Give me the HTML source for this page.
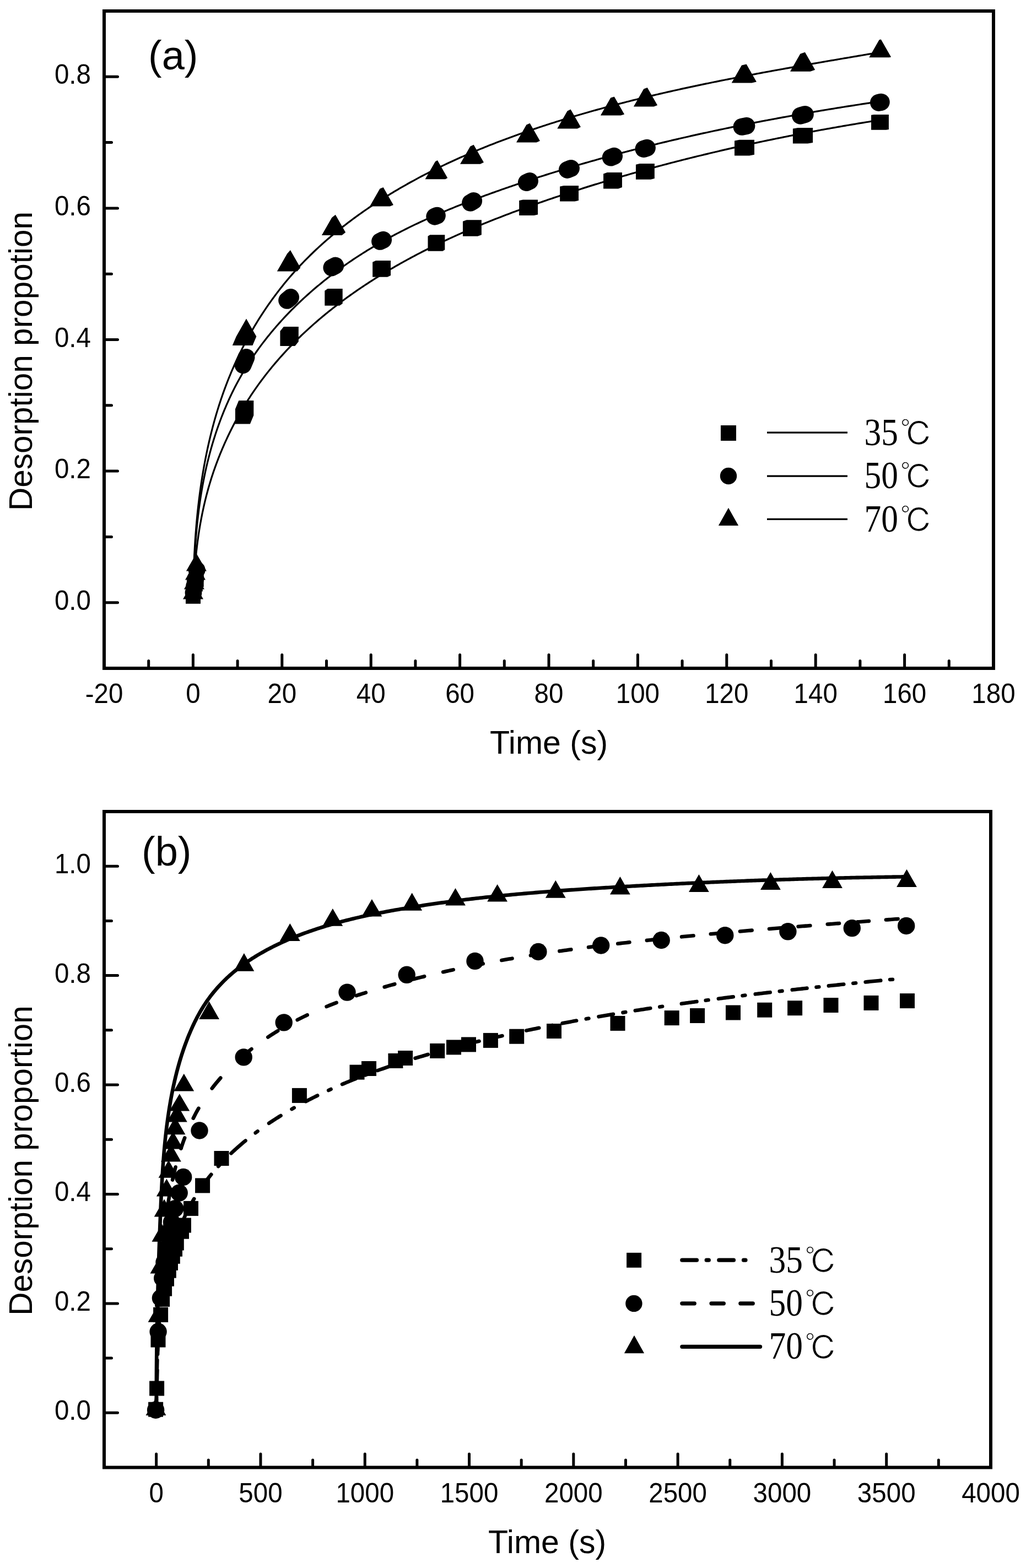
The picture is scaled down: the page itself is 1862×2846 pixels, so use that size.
<!DOCTYPE html>
<html lang="en">
<head>
<meta charset="utf-8">
<title>Desorption proportion vs time</title>
<style>
html,body{margin:0;padding:0;background:#fff;}
body{width:1862px;height:2846px;overflow:hidden;}
svg{display:block;}
</style>
</head>
<body>
<svg width="1862" height="2846" viewBox="0 0 1862 2846" role="img" aria-label="Desorption proportion versus time at 35, 50 and 70 degrees Celsius">
<rect width="1862" height="2846" fill="#fff"/>
<g id="plot-a">
<rect x="189" y="20" width="1614" height="1193" fill="none" stroke="#000" stroke-width="6"/>
<path d="M350.4 1213V1188.5M511.8 1213V1188.5M673.2 1213V1188.5M834.6 1213V1188.5M996 1213V1188.5M1157.4 1213V1188.5M1318.8 1213V1188.5M1480.2 1213V1188.5M1641.6 1213V1188.5" fill="none" stroke="#000" stroke-width="5" stroke-linecap="round"/>
<path d="M269.7 1213V1199.5M431.1 1213V1199.5M592.5 1213V1199.5M753.9 1213V1199.5M915.3 1213V1199.5M1076.7 1213V1199.5M1238.1 1213V1199.5M1399.5 1213V1199.5M1560.9 1213V1199.5M1722.3 1213V1199.5" fill="none" stroke="#000" stroke-width="5" stroke-linecap="round"/>
<path d="M189 1093.7H213.5M189 855.1H213.5M189 616.5H213.5M189 377.9H213.5M189 139.3H213.5" fill="none" stroke="#000" stroke-width="5" stroke-linecap="round"/>
<path d="M189 974.4H202.5M189 735.8H202.5M189 497.2H202.5M189 258.6H202.5" fill="none" stroke="#000" stroke-width="5" stroke-linecap="round"/>
<g fill="#000">
<text transform="translate(189 1276) scale(0.99 1.04)" font-family="'Liberation Sans', sans-serif" font-size="48" text-anchor="middle">-20</text>
<text transform="translate(350.4 1276) scale(0.99 1.04)" font-family="'Liberation Sans', sans-serif" font-size="48" text-anchor="middle">0</text>
<text transform="translate(511.8 1276) scale(0.99 1.04)" font-family="'Liberation Sans', sans-serif" font-size="48" text-anchor="middle">20</text>
<text transform="translate(673.2 1276) scale(0.99 1.04)" font-family="'Liberation Sans', sans-serif" font-size="48" text-anchor="middle">40</text>
<text transform="translate(834.6 1276) scale(0.99 1.04)" font-family="'Liberation Sans', sans-serif" font-size="48" text-anchor="middle">60</text>
<text transform="translate(996 1276) scale(0.99 1.04)" font-family="'Liberation Sans', sans-serif" font-size="48" text-anchor="middle">80</text>
<text transform="translate(1157.4 1276) scale(0.99 1.04)" font-family="'Liberation Sans', sans-serif" font-size="48" text-anchor="middle">100</text>
<text transform="translate(1318.8 1276) scale(0.99 1.04)" font-family="'Liberation Sans', sans-serif" font-size="48" text-anchor="middle">120</text>
<text transform="translate(1480.2 1276) scale(0.99 1.04)" font-family="'Liberation Sans', sans-serif" font-size="48" text-anchor="middle">140</text>
<text transform="translate(1641.6 1276) scale(0.99 1.04)" font-family="'Liberation Sans', sans-serif" font-size="48" text-anchor="middle">160</text>
<text transform="translate(1803 1276) scale(0.99 1.04)" font-family="'Liberation Sans', sans-serif" font-size="48" text-anchor="middle">180</text>
<text transform="translate(165 1106.7) scale(0.99 1.04)" font-family="'Liberation Sans', sans-serif" font-size="48" text-anchor="end">0.0</text>
<text transform="translate(165 868.1) scale(0.99 1.04)" font-family="'Liberation Sans', sans-serif" font-size="48" text-anchor="end">0.2</text>
<text transform="translate(165 629.5) scale(0.99 1.04)" font-family="'Liberation Sans', sans-serif" font-size="48" text-anchor="end">0.4</text>
<text transform="translate(165 390.9) scale(0.99 1.04)" font-family="'Liberation Sans', sans-serif" font-size="48" text-anchor="end">0.6</text>
<text transform="translate(165 152.3) scale(0.99 1.04)" font-family="'Liberation Sans', sans-serif" font-size="48" text-anchor="end">0.8</text>
<text x="996" y="1368" font-family="'Liberation Sans', sans-serif" font-size="59" text-anchor="middle">Time (s)</text>
<text transform="translate(57.5 655.5) rotate(-90)" font-family="'Liberation Sans', sans-serif" font-size="58.5" text-anchor="middle">Desorption propotion</text>
<text x="269" y="125.5" font-family="'Liberation Sans', sans-serif" font-size="74" text-anchor="start">(a)</text>
</g>
<path d="M350.87 1093.02L350.93 1089.67L350.99 1086.33L351.07 1082.98L351.15 1079.63L351.25 1076.28L351.36 1072.93L351.47 1069.58L351.6 1066.22L351.74 1062.87L351.89 1059.52L352.05 1056.17L352.22 1052.82L352.4 1049.47L352.6 1046.12L352.8 1042.77L353.02 1039.42L353.25 1036.07L353.49 1032.72L353.74 1029.37L354.01 1026.03L354.28 1022.68L354.57 1019.33L354.88 1015.99L355.19 1012.65L355.52 1009.31L355.86 1005.97L356.21 1002.63L356.58 999.29L356.96 995.96L357.35 992.63L357.76 989.3L358.18 985.97L358.62 982.64L359.06 979.32L359.53 975.99L360 972.67L360.5 969.36L361 966.04L361.52 962.73L362.06 959.42L362.61 956.11L363.17 952.81L363.75 949.51L364.35 946.21L364.96 942.92L365.58 939.63L366.23 936.34L366.88 933.06L367.56 929.78L368.25 926.5L368.95 923.23L369.67 919.96L370.41 916.7L371.17 913.44L371.94 910.18L372.73 906.93L373.53 903.69L374.35 900.44L375.19 897.21L376.05 893.97L376.92 890.74L377.81 887.52L378.72 884.3L379.65 881.09L380.6 877.88L381.56 874.68L382.54 871.48L383.54 868.29L384.56 865.1L385.59 861.92L386.65 858.75L387.72 855.58L388.82 852.41L389.93 849.26L391.06 846.11L392.2 842.96L393.37 839.82L394.55 836.69L395.75 833.56L396.97 830.44L398.2 827.33L399.46 824.22L400.72 821.12L402.01 818.02L403.31 814.94L404.63 811.85L405.96 808.78L407.31 805.71L408.68 802.65L410.06 799.59L411.46 796.55L412.88 793.51L414.31 790.47L415.76 787.45L417.22 784.43L418.7 781.42L420.2 778.42L421.72 775.43L423.25 772.44L424.81 769.47L426.38 766.5L427.96 763.54L429.56 760.59L431.18 757.65L432.82 754.71L434.48 751.79L436.15 748.87L437.83 745.97L439.54 743.07L441.26 740.19L442.99 737.31L444.74 734.45L446.51 731.59L448.3 728.74L450.1 725.91L451.91 723.08L453.74 720.27L455.59 717.46L457.45 714.67L459.33 711.88L461.22 709.11L463.13 706.35L465.05 703.6L466.99 700.86L468.94 698.13L470.91 695.42L472.89 692.72L474.89 690.02L476.9 687.34L478.92 684.68L480.96 682.02L483.02 679.37L485.08 676.74L487.16 674.12L489.26 671.51L491.37 668.91L493.49 666.33L495.62 663.75L497.77 661.19L499.93 658.64L502.11 656.1L504.3 653.58L506.5 651.06L508.71 648.55L510.94 646.06L513.18 643.58L515.43 641.11L517.7 638.65L519.97 636.2L522.26 633.77L524.56 631.34L526.88 628.93L529.2 626.53L531.54 624.14L533.89 621.76L536.25 619.39L538.62 617.03L541 614.68L543.4 612.35L545.8 610.02L548.22 607.71L550.65 605.41L553.09 603.12L555.54 600.84L558 598.57L560.47 596.31L562.95 594.06L565.45 591.82L567.95 589.6L570.46 587.38L572.99 585.18L575.52 582.98L578.06 580.8L580.62 578.63L583.18 576.47L585.75 574.31L588.33 572.17L590.92 570.04L593.52 567.92L596.13 565.81L598.75 563.72L601.38 561.63L604.02 559.55L606.67 557.48L609.32 555.42L611.98 553.38L614.65 551.34L617.34 549.31L620.02 547.29L622.72 545.29L625.43 543.29L628.14 541.31L630.86 539.33L633.59 537.36L636.32 535.41L639.07 533.46L641.82 531.53L644.58 529.6L647.35 527.68L650.12 525.78L652.9 523.88L655.69 521.99L658.48 520.12L661.28 518.25L664.09 516.39L666.91 514.54L669.73 512.71L672.55 510.88L675.39 509.06L678.23 507.25L681.08 505.45L683.93 503.66L686.79 501.88L689.65 500.11L692.52 498.35L695.4 496.59L698.28 494.85L701.16 493.12L704.05 491.39L706.95 489.68L709.85 487.97L712.76 486.28L715.67 484.59L718.59 482.91L721.51 481.24L724.43 479.58L727.37 477.93L730.3 476.29L733.24 474.66L736.18 473.03L739.13 471.42L742.08 469.81L745.04 468.22L748 466.63L750.96 465.05L753.93 463.48L756.9 461.92L759.87 460.37L762.85 458.82L765.83 457.28L768.82 455.76L771.81 454.24L774.8 452.73L777.8 451.22L780.8 449.73L783.8 448.24L786.81 446.76L789.82 445.29L792.83 443.83L795.85 442.37L798.87 440.92L801.9 439.49L804.92 438.05L807.95 436.63L810.99 435.21L814.03 433.8L817.07 432.4L820.11 431L823.16 429.62L826.21 428.24L829.26 426.86L832.32 425.5L835.38 424.14L838.44 422.78L841.5 421.44L844.57 420.1L847.64 418.77L850.71 417.44L853.79 416.12L856.87 414.81L859.95 413.51L863.04 412.21L866.12 410.91L869.21 409.63L872.31 408.35L875.4 407.07L878.5 405.81L881.6 404.54L884.7 403.29L887.81 402.04L890.91 400.79L894.02 399.55L897.14 398.32L900.25 397.09L903.37 395.87L906.49 394.66L909.61 393.45L912.73 392.24L915.86 391.04L918.98 389.85L922.11 388.66L925.25 387.47L928.38 386.3L931.52 385.12L934.65 383.95L937.79 382.79L940.94 381.63L944.08 380.48L947.23 379.33L950.37 378.18L953.52 377.04L956.67 375.91L959.83 374.77L962.98 373.65L966.14 372.52L969.29 371.41L972.45 370.29L975.61 369.18L978.78 368.08L981.94 366.98L985.11 365.88L988.27 364.78L991.44 363.69L994.61 362.61L997.78 361.52L1000.95 360.45L1004.13 359.37L1007.3 358.3L1010.48 357.23L1013.65 356.17L1016.83 355.11L1020.01 354.05L1023.19 353L1026.38 351.95L1029.56 350.9L1032.74 349.86L1035.93 348.82L1039.12 347.78L1042.31 346.75L1045.5 345.72L1048.69 344.7L1051.88 343.68L1055.07 342.66L1058.27 341.64L1061.46 340.63L1064.66 339.63L1067.86 338.62L1071.06 337.62L1074.26 336.63L1077.46 335.63L1080.66 334.64L1083.87 333.66L1087.07 332.68L1090.28 331.7L1093.49 330.72L1096.69 329.75L1099.9 328.78L1103.11 327.82L1106.33 326.85L1109.54 325.89L1112.75 324.94L1115.97 323.99L1119.18 323.04L1122.4 322.1L1125.62 321.15L1128.84 320.22L1132.06 319.28L1135.28 318.35L1138.5 317.42L1141.73 316.5L1144.95 315.58L1148.18 314.66L1151.4 313.75L1154.63 312.84L1157.86 311.93L1161.09 311.02L1164.32 310.12L1167.55 309.23L1170.78 308.33L1174.02 307.44L1177.25 306.55L1180.49 305.67L1183.72 304.79L1186.96 303.91L1190.2 303.04L1193.44 302.16L1196.68 301.3L1199.92 300.43L1203.16 299.57L1206.4 298.71L1209.65 297.86L1212.89 297.01L1216.14 296.16L1219.38 295.31L1222.63 294.47L1225.88 293.63L1229.13 292.79L1232.38 291.96L1235.63 291.13L1238.88 290.31L1242.13 289.48L1245.39 288.66L1248.64 287.85L1251.89 287.03L1255.15 286.22L1258.41 285.42L1261.66 284.61L1264.92 283.81L1268.18 283.01L1271.44 282.22L1274.7 281.43L1277.96 280.64L1281.22 279.85L1284.48 279.07L1287.75 278.29L1291.01 277.51L1294.28 276.74L1297.54 275.97L1300.81 275.2L1304.08 274.44L1307.34 273.68L1310.61 272.92L1313.88 272.16L1317.15 271.41L1320.42 270.66L1323.69 269.92L1326.96 269.17L1330.24 268.43L1333.51 267.7L1336.78 266.96L1340.06 266.23L1343.33 265.5L1346.61 264.78L1349.88 264.06L1353.16 263.34L1356.44 262.62L1359.72 261.91L1362.99 261.2L1366.27 260.49L1369.55 259.78L1372.83 259.08L1376.11 258.38L1379.4 257.69L1382.68 256.99L1385.96 256.3L1389.24 255.62L1392.53 254.93L1395.81 254.25L1399.1 253.57L1402.38 252.89L1405.67 252.22L1408.95 251.55L1412.24 250.88L1415.53 250.22L1418.82 249.56L1422.1 248.9L1425.39 248.24L1428.68 247.59L1431.97 246.94L1435.26 246.29L1438.55 245.64L1441.84 245L1445.14 244.36L1448.43 243.73L1451.72 243.09L1455.01 242.46L1458.31 241.83L1461.6 241.2L1464.89 240.58L1468.19 239.96L1471.48 239.34L1474.78 238.73L1478.07 238.12L1481.37 237.51L1484.67 236.9L1487.96 236.29L1491.26 235.69L1494.56 235.09L1497.85 234.5L1501.15 233.9L1504.45 233.31L1507.75 232.72L1511.05 232.14L1514.35 231.55L1517.65 230.97L1520.95 230.39L1524.25 229.82L1527.55 229.25L1530.85 228.67L1534.15 228.11L1537.45 227.54L1540.75 226.98L1544.05 226.42L1547.35 225.86L1550.66 225.31L1553.96 224.75L1557.26 224.2L1560.56 223.66L1563.87 223.11L1567.17 222.57L1570.47 222.03L1573.78 221.49L1577.08 220.96L1580.39 220.42L1583.69 219.89L1586.99 219.37L1590.3 218.84L1593.6 218.32L1596.91 217.8" fill="none" stroke="#000" stroke-width="3.2" stroke-linejoin="round"/>
<path d="M350.98 1092.65L351 1089.26L351.03 1085.85L351.06 1082.45L351.1 1079.04L351.14 1075.63L351.19 1072.22L351.25 1068.8L351.31 1065.38L351.38 1061.96L351.45 1058.53L351.53 1055.11L351.62 1051.68L351.71 1048.25L351.81 1044.81L351.92 1041.38L352.04 1037.94L352.16 1034.5L352.29 1031.06L352.43 1027.62L352.58 1024.18L352.73 1020.73L352.89 1017.29L353.07 1013.84L353.25 1010.39L353.43 1006.94L353.63 1003.49L353.84 1000.04L354.05 996.59L354.28 993.14L354.51 989.68L354.76 986.23L355.01 982.78L355.28 979.33L355.55 975.87L355.84 972.42L356.13 968.97L356.44 965.52L356.75 962.06L357.08 958.61L357.42 955.16L357.77 951.71L358.13 948.26L358.5 944.81L358.89 941.36L359.28 937.92L359.69 934.47L360.11 931.03L360.54 927.58L360.99 924.14L361.45 920.7L361.92 917.26L362.4 913.83L362.9 910.39L363.41 906.96L363.93 903.53L364.47 900.1L365.02 896.68L365.58 893.25L366.16 889.83L366.75 886.41L367.36 883L367.98 879.58L368.62 876.17L369.27 872.77L369.93 869.36L370.61 865.96L371.31 862.56L372.02 859.17L372.75 855.78L373.49 852.39L374.25 849.01L375.03 845.63L375.82 842.25L376.62 838.88L377.45 835.51L378.29 832.15L379.15 828.79L380.02 825.43L380.91 822.08L381.82 818.74L382.75 815.4L383.69 812.06L384.65 808.73L385.63 805.41L386.62 802.09L387.63 798.77L388.66 795.47L389.71 792.16L390.77 788.87L391.85 785.58L392.95 782.3L394.07 779.02L395.2 775.75L396.35 772.49L397.52 769.24L398.71 765.99L399.92 762.75L401.14 759.52L402.38 756.3L403.64 753.08L404.92 749.87L406.22 746.67L407.53 743.48L408.87 740.3L410.22 737.12L411.59 733.96L412.98 730.8L414.39 727.66L415.81 724.52L417.26 721.39L418.72 718.27L420.21 715.17L421.71 712.07L423.23 708.98L424.77 705.9L426.33 702.84L427.91 699.78L429.5 696.73L431.12 693.7L432.76 690.68L434.41 687.66L436.09 684.66L437.78 681.67L439.5 678.7L441.23 675.73L442.98 672.78L444.76 669.84L446.55 666.91L448.36 663.99L450.19 661.08L452.03 658.19L453.9 655.3L455.79 652.43L457.69 649.57L459.61 646.73L461.55 643.89L463.51 641.07L465.48 638.26L467.47 635.46L469.48 632.67L471.51 629.9L473.55 627.13L475.61 624.38L477.69 621.64L479.79 618.92L481.9 616.2L484.03 613.5L486.17 610.81L488.33 608.13L490.51 605.46L492.7 602.81L494.91 600.17L497.14 597.54L499.38 594.92L501.63 592.31L503.9 589.72L506.19 587.14L508.49 584.57L510.8 582.01L513.13 579.46L515.48 576.93L517.84 574.41L520.21 571.9L522.6 569.41L525 566.92L527.42 564.45L529.85 561.99L532.29 559.54L534.75 557.11L537.22 554.69L539.71 552.28L542.2 549.88L544.71 547.49L547.24 545.12L549.77 542.76L552.32 540.41L554.88 538.08L557.45 535.75L560.04 533.44L562.64 531.14L565.25 528.86L567.87 526.58L570.5 524.32L573.14 522.07L575.8 519.84L578.47 517.61L581.15 515.4L583.83 513.2L586.53 511.02L589.25 508.85L591.97 506.68L594.7 504.54L597.44 502.4L600.19 500.28L602.95 498.17L605.73 496.07L608.51 493.98L611.3 491.91L614.1 489.85L616.91 487.8L619.73 485.77L622.56 483.75L625.4 481.74L628.24 479.74L631.1 477.76L633.96 475.79L636.83 473.83L639.71 471.88L642.6 469.95L645.5 468.03L648.4 466.12L651.32 464.23L654.24 462.35L657.16 460.48L660.1 458.62L663.04 456.78L665.99 454.95L668.94 453.13L671.91 451.33L674.88 449.54L677.85 447.76L680.83 445.99L683.82 444.24L686.82 442.5L689.82 440.77L692.83 439.06L695.84 437.35L698.86 435.66L701.89 433.98L704.92 432.32L707.95 430.66L711 429.02L714.05 427.39L717.1 425.76L720.16 424.15L723.23 422.56L726.3 420.97L729.37 419.39L732.45 417.83L735.54 416.27L738.63 414.73L741.73 413.19L744.83 411.67L747.94 410.16L751.05 408.65L754.16 407.16L757.29 405.68L760.41 404.2L763.54 402.74L766.68 401.29L769.81 399.84L772.96 398.41L776.11 396.98L779.26 395.56L782.41 394.16L785.57 392.76L788.74 391.37L791.91 389.98L795.08 388.61L798.25 387.25L801.43 385.89L804.62 384.54L807.8 383.2L810.99 381.87L814.19 380.54L817.38 379.22L820.58 377.92L823.79 376.61L826.99 375.32L830.2 374.03L833.42 372.75L836.63 371.48L839.85 370.21L843.07 368.95L846.3 367.7L849.52 366.45L852.75 365.21L855.98 363.98L859.22 362.75L862.45 361.53L865.69 360.31L868.94 359.1L872.18 357.9L875.42 356.7L878.67 355.5L881.92 354.32L885.17 353.13L888.43 351.96L891.68 350.78L894.94 349.62L898.2 348.45L901.46 347.3L904.72 346.14L907.98 344.99L911.24 343.85L914.51 342.71L917.78 341.57L921.04 340.44L924.31 339.31L927.58 338.19L930.86 337.07L934.13 335.95L937.4 334.84L940.68 333.74L943.96 332.64L947.24 331.54L950.52 330.44L953.8 329.35L957.08 328.27L960.36 327.19L963.65 326.11L966.93 325.04L970.22 323.97L973.51 322.9L976.8 321.84L980.09 320.79L983.38 319.73L986.68 318.69L989.97 317.64L993.27 316.6L996.56 315.56L999.86 314.53L1003.16 313.5L1006.46 312.48L1009.76 311.46L1013.07 310.44L1016.37 309.43L1019.68 308.42L1022.98 307.42L1026.29 306.42L1029.6 305.42L1032.91 304.43L1036.22 303.44L1039.53 302.45L1042.84 301.47L1046.16 300.49L1049.47 299.52L1052.79 298.55L1056.11 297.58L1059.43 296.62L1062.75 295.66L1066.07 294.71L1069.39 293.76L1072.71 292.81L1076.04 291.87L1079.36 290.93L1082.69 289.99L1086.01 289.06L1089.34 288.13L1092.67 287.21L1096 286.29L1099.33 285.37L1102.67 284.46L1106 283.55L1109.33 282.64L1112.67 281.74L1116 280.84L1119.34 279.94L1122.68 279.05L1126.02 278.16L1129.36 277.28L1132.7 276.39L1136.04 275.52L1139.39 274.64L1142.73 273.77L1146.07 272.9L1149.42 272.04L1152.77 271.18L1156.11 270.32L1159.46 269.47L1162.81 268.62L1166.16 267.77L1169.51 266.93L1172.87 266.09L1176.22 265.25L1179.57 264.42L1182.93 263.59L1186.28 262.76L1189.64 261.94L1193 261.12L1196.36 260.31L1199.72 259.49L1203.08 258.68L1206.44 257.88L1209.8 257.07L1213.16 256.27L1216.52 255.48L1219.89 254.68L1223.25 253.89L1226.62 253.11L1229.98 252.32L1233.35 251.54L1236.72 250.77L1240.09 249.99L1243.46 249.22L1246.83 248.45L1250.2 247.69L1253.57 246.93L1256.94 246.17L1260.32 245.41L1263.69 244.66L1267.07 243.91L1270.44 243.17L1273.82 242.42L1277.2 241.68L1280.57 240.95L1283.95 240.21L1287.33 239.48L1290.71 238.75L1294.09 238.03L1297.47 237.31L1300.85 236.59L1304.24 235.87L1307.62 235.16L1311 234.45L1314.39 233.74L1317.77 233.03L1321.16 232.33L1324.55 231.63L1327.93 230.94L1331.32 230.25L1334.71 229.56L1338.1 228.87L1341.49 228.18L1344.88 227.5L1348.27 226.82L1351.66 226.15L1355.05 225.47L1358.44 224.8L1361.84 224.14L1365.23 223.47L1368.62 222.81L1372.02 222.15L1375.41 221.49L1378.81 220.84L1382.21 220.19L1385.6 219.54L1389 218.89L1392.4 218.25L1395.8 217.61L1399.2 216.97L1402.59 216.33L1405.99 215.7L1409.4 215.07L1412.8 214.44L1416.2 213.82L1419.6 213.19L1423 212.57L1426.4 211.95L1429.81 211.34L1433.21 210.73L1436.62 210.12L1440.02 209.51L1443.42 208.9L1446.83 208.3L1450.24 207.7L1453.64 207.1L1457.05 206.51L1460.46 205.91L1463.86 205.32L1467.27 204.73L1470.68 204.15L1474.09 203.56L1477.5 202.98L1480.91 202.4L1484.32 201.83L1487.73 201.25L1491.14 200.68L1494.55 200.11L1497.96 199.54L1501.37 198.98L1504.78 198.42L1508.19 197.86L1511.61 197.3L1515.02 196.74L1518.43 196.19L1521.85 195.64L1525.26 195.09L1528.67 194.54L1532.09 193.99L1535.5 193.45L1538.92 192.91L1542.33 192.37L1545.75 191.83L1549.16 191.3L1552.58 190.77L1555.99 190.24L1559.41 189.71L1562.83 189.18L1566.24 188.66L1569.66 188.13L1573.08 187.61L1576.5 187.1L1579.91 186.58L1583.33 186.07L1586.75 185.55L1590.17 185.04L1593.59 184.54L1597 184.03" fill="none" stroke="#000" stroke-width="3.2" stroke-linejoin="round"/>
<path d="M350.52 1092.69L350.54 1089.12L350.57 1085.56L350.6 1081.99L350.63 1078.42L350.67 1074.85L350.72 1071.27L350.78 1067.7L350.84 1064.12L350.9 1060.54L350.98 1056.97L351.06 1053.39L351.14 1049.81L351.24 1046.22L351.34 1042.64L351.44 1039.06L351.56 1035.47L351.68 1031.89L351.8 1028.3L351.94 1024.71L352.08 1021.12L352.23 1017.53L352.39 1013.95L352.56 1010.36L352.73 1006.76L352.92 1003.17L353.11 999.58L353.3 995.99L353.51 992.4L353.73 988.81L353.95 985.22L354.18 981.62L354.42 978.03L354.67 974.44L354.93 970.85L355.2 967.25L355.48 963.66L355.76 960.07L356.06 956.48L356.36 952.89L356.68 949.3L357 945.71L357.34 942.12L357.68 938.53L358.04 934.94L358.4 931.35L358.77 927.76L359.16 924.18L359.55 920.59L359.96 917.01L360.38 913.42L360.8 909.84L361.24 906.26L361.69 902.68L362.15 899.1L362.62 895.52L363.1 891.94L363.6 888.37L364.1 884.79L364.62 881.22L365.15 877.65L365.69 874.08L366.24 870.51L366.8 866.95L367.38 863.38L367.97 859.82L368.57 856.26L369.18 852.7L369.81 849.14L370.45 845.59L371.1 842.03L371.76 838.48L372.44 834.94L373.13 831.39L373.83 827.85L374.55 824.31L375.28 820.77L376.02 817.24L376.78 813.71L377.55 810.18L378.33 806.65L379.13 803.13L379.94 799.62L380.77 796.1L381.61 792.59L382.46 789.08L383.33 785.58L384.22 782.08L385.12 778.59L386.03 775.1L386.96 771.61L387.9 768.13L388.86 764.66L389.83 761.18L390.82 757.72L391.83 754.25L392.85 750.8L393.88 747.34L394.94 743.9L396 740.46L397.09 737.02L398.18 733.59L399.3 730.16L400.43 726.74L401.58 723.33L402.75 719.92L403.93 716.52L405.12 713.12L406.34 709.73L407.57 706.35L408.82 702.97L410.09 699.6L411.37 696.24L412.67 692.88L413.99 689.53L415.32 686.19L416.68 682.85L418.05 679.52L419.44 676.2L420.84 672.89L422.26 669.58L423.7 666.28L425.16 662.99L426.64 659.71L428.13 656.43L429.64 653.16L431.17 649.9L432.71 646.65L434.27 643.41L435.85 640.17L437.45 636.95L439.06 633.73L440.69 630.52L442.33 627.32L444 624.13L445.68 620.95L447.38 617.77L449.09 614.61L450.82 611.46L452.57 608.31L454.34 605.18L456.12 602.05L457.92 598.94L459.73 595.83L461.56 592.73L463.41 589.65L465.28 586.57L467.16 583.51L469.06 580.45L470.97 577.41L472.9 574.38L474.85 571.35L476.82 568.34L478.8 565.34L480.8 562.35L482.81 559.37L484.84 556.41L486.89 553.45L488.95 550.51L491.03 547.57L493.12 544.65L495.23 541.74L497.36 538.85L499.5 535.96L501.66 533.09L503.84 530.23L506.03 527.38L508.24 524.54L510.46 521.72L512.7 518.91L514.96 516.11L517.23 513.33L519.52 510.55L521.82 507.8L524.14 505.05L526.47 502.32L528.82 499.6L531.19 496.89L533.57 494.2L535.97 491.52L538.38 488.86L540.81 486.21L543.25 483.57L545.71 480.95L548.19 478.34L550.68 475.75L553.18 473.17L555.7 470.6L558.24 468.05L560.79 465.51L563.35 462.99L565.93 460.48L568.52 457.98L571.13 455.5L573.75 453.03L576.38 450.57L579.03 448.13L581.69 445.7L584.36 443.29L587.04 440.89L589.74 438.5L592.45 436.13L595.18 433.77L597.91 431.42L600.66 429.08L603.41 426.76L606.18 424.46L608.96 422.16L611.76 419.88L614.56 417.61L617.37 415.36L620.2 413.11L623.03 410.88L625.88 408.67L628.74 406.46L631.6 404.27L634.48 402.1L637.36 399.93L640.26 397.78L643.16 395.64L646.07 393.51L648.99 391.39L651.92 389.29L654.86 387.2L657.81 385.12L660.77 383.06L663.73 381.01L666.7 378.96L669.68 376.94L672.67 374.92L675.66 372.91L678.66 370.92L681.67 368.94L684.69 366.97L687.71 365.02L690.75 363.07L693.78 361.14L696.83 359.22L699.88 357.31L702.94 355.41L706.01 353.52L709.08 351.65L712.16 349.78L715.25 347.93L718.34 346.09L721.44 344.26L724.55 342.44L727.66 340.63L730.78 338.83L733.91 337.05L737.04 335.27L740.18 333.51L743.33 331.76L746.48 330.01L749.64 328.28L752.8 326.56L755.97 324.85L759.14 323.15L762.33 321.46L765.51 319.78L768.7 318.11L771.9 316.45L775.11 314.8L778.32 313.16L781.53 311.53L784.75 309.91L787.98 308.3L791.21 306.7L794.44 305.11L797.68 303.54L800.93 301.97L804.18 300.41L807.44 298.85L810.7 297.31L813.96 295.78L817.23 294.26L820.51 292.75L823.79 291.24L827.07 289.75L830.36 288.26L833.66 286.79L836.96 285.32L840.26 283.86L843.56 282.41L846.88 280.97L850.19 279.54L853.51 278.12L856.83 276.7L860.16 275.3L863.49 273.9L866.83 272.51L870.16 271.13L873.51 269.76L876.85 268.4L880.2 267.04L883.56 265.69L886.91 264.36L890.27 263.03L893.64 261.7L897 260.39L900.37 259.08L903.74 257.78L907.12 256.49L910.5 255.21L913.88 253.93L917.27 252.66L920.65 251.4L924.05 250.15L927.44 248.9L930.84 247.66L934.23 246.43L937.64 245.21L941.04 243.99L944.44 242.78L947.85 241.58L951.26 240.39L954.68 239.2L958.09 238.01L961.51 236.84L964.93 235.67L968.35 234.51L971.77 233.36L975.2 232.21L978.63 231.07L982.05 229.93L985.48 228.8L988.92 227.68L992.35 226.56L995.78 225.45L999.22 224.35L1002.66 223.25L1006.1 222.16L1009.54 221.07L1012.98 219.99L1016.42 218.92L1019.87 217.85L1023.31 216.79L1026.76 215.74L1030.21 214.69L1033.66 213.64L1037.11 212.6L1040.56 211.57L1044.02 210.54L1047.47 209.52L1050.93 208.5L1054.39 207.49L1057.85 206.49L1061.31 205.49L1064.77 204.5L1068.23 203.51L1071.69 202.52L1075.16 201.55L1078.63 200.57L1082.09 199.61L1085.56 198.64L1089.03 197.69L1092.5 196.73L1095.98 195.79L1099.45 194.85L1102.92 193.91L1106.4 192.98L1109.88 192.05L1113.36 191.13L1116.84 190.21L1120.32 189.3L1123.8 188.39L1127.28 187.49L1130.76 186.59L1134.25 185.7L1137.73 184.81L1141.22 183.93L1144.71 183.05L1148.2 182.17L1151.69 181.3L1155.18 180.44L1158.67 179.58L1162.16 178.72L1165.66 177.87L1169.15 177.02L1172.65 176.17L1176.15 175.33L1179.65 174.5L1183.15 173.67L1186.65 172.84L1190.15 172.02L1193.65 171.2L1197.15 170.38L1200.66 169.57L1204.16 168.76L1207.67 167.96L1211.17 167.16L1214.68 166.36L1218.19 165.57L1221.7 164.78L1225.21 164L1228.72 163.22L1232.23 162.44L1235.74 161.67L1239.26 160.9L1242.77 160.13L1246.29 159.37L1249.8 158.61L1253.32 157.85L1256.84 157.1L1260.36 156.35L1263.88 155.6L1267.4 154.86L1270.92 154.12L1274.44 153.39L1277.96 152.65L1281.48 151.92L1285.01 151.2L1288.53 150.47L1292.06 149.75L1295.58 149.03L1299.11 148.32L1302.64 147.6L1306.17 146.89L1309.69 146.19L1313.22 145.48L1316.75 144.78L1320.29 144.08L1323.82 143.39L1327.35 142.7L1330.88 142L1334.41 141.32L1337.95 140.63L1341.48 139.95L1345.02 139.27L1348.55 138.59L1352.09 137.91L1355.63 137.24L1359.16 136.57L1362.7 135.9L1366.24 135.23L1369.78 134.57L1373.32 133.9L1376.86 133.24L1380.4 132.59L1383.94 131.93L1387.48 131.28L1391.03 130.62L1394.57 129.97L1398.11 129.32L1401.66 128.68L1405.2 128.03L1408.74 127.39L1412.29 126.75L1415.84 126.11L1419.38 125.47L1422.93 124.83L1426.47 124.2L1430.02 123.56L1433.57 122.93L1437.12 122.3L1440.66 121.67L1444.21 121.04L1447.76 120.42L1451.31 119.79L1454.86 119.17L1458.41 118.54L1461.96 117.92L1465.51 117.3L1469.06 116.68L1472.62 116.06L1476.17 115.45L1479.72 114.83L1483.27 114.22L1486.82 113.6L1490.38 112.99L1493.93 112.38L1497.48 111.76L1501.04 111.15L1504.59 110.54L1508.14 109.93L1511.7 109.33L1515.25 108.72L1518.81 108.11L1522.36 107.5L1525.92 106.9L1529.47 106.29L1533.03 105.68L1536.58 105.08L1540.14 104.47L1543.69 103.87L1547.25 103.27L1550.81 102.66L1554.36 102.06L1557.92 101.45L1561.48 100.85L1565.03 100.25L1568.59 99.64L1572.14 99.04L1575.7 98.44L1579.26 97.83L1582.82 97.23L1586.37 96.63L1589.93 96.02L1593.49 95.42L1597.04 94.82" fill="none" stroke="#000" stroke-width="3.2" stroke-linejoin="round"/>
<g fill="#000">
<path d="M350.5 1055.5L369 1087.5L332 1087.5Z"/>
<path d="M352.4 1037.4L370.9 1069.4L333.9 1069.4Z"/>
<path d="M354.5 1020.6L373 1052.6L336 1052.6Z"/>
<path d="M356.4 1004.4L374.9 1036.4L337.9 1036.4Z"/>
<rect x="337" y="1068.8" width="27" height="27"/>
<rect x="338.9" y="1052.5" width="27" height="27"/>
<rect x="340.8" y="1046.5" width="27" height="27"/>
<rect x="342.7" y="1038.5" width="27" height="27"/>
<circle cx="351" cy="1076" r="15.4"/>
<circle cx="352.6" cy="1064" r="15.4"/>
<circle cx="355" cy="1050" r="15.4"/>
<circle cx="357.2" cy="1034.5" r="15.4"/>
<path d="M426.9 769.4L426.9 742.4L433.3 727L460.3 727L460.3 754L453.9 769.4Z"/>
<path d="M447 648.5L441.1 662.6" fill="none" stroke="#000" stroke-width="31" stroke-linecap="round"/>
<path d="M447 578.6L465.3 610.7L458.4 627.1L421.8 627.1L428.7 610.7Z"/>
<path d="M508.4 627.9L508.4 600.9L514.8 592.9L541.8 592.9L541.8 619.9L535.4 627.9Z"/>
<path d="M589.3 554.7L589.3 527.7L594.7 523.9L621.7 523.9L621.7 550.9L616.3 554.7Z"/>
<path d="M676.15 502.8L676.15 475.8L682.05 473L709.05 473L709.05 500L703.15 502.8Z"/>
<path d="M776.5 455.65L776.5 428.65L780.3 426.15L807.3 426.15L807.3 453.15L803.5 455.65Z"/>
<path d="M839.95 428.65L839.95 401.65L846.85 399.15L873.85 399.15L873.85 426.15L866.95 428.65Z"/>
<path d="M942.15 390.95L942.15 363.95L949.05 362.45L976.05 362.45L976.05 389.45L969.15 390.95Z"/>
<path d="M1016.15 365.45L1016.15 338.45L1023.05 336.95L1050.05 336.95L1050.05 363.95L1043.15 365.45Z"/>
<path d="M1095.05 342.55L1095.05 315.55L1101.95 313.05L1128.95 313.05L1128.95 340.05L1122.05 342.55Z"/>
<path d="M1153.95 325.7L1153.95 298.7L1160.85 296.9L1187.85 296.9L1187.85 323.9L1180.95 325.7Z"/>
<path d="M1333 282.5L1333 255.5L1342 253.7L1369 253.7L1369 280.7L1360 282.5Z"/>
<path d="M1438.9 260.55L1438.9 233.55L1448.1 232.05L1475.1 232.05L1475.1 259.05L1465.9 260.55Z"/>
<path d="M1581.05 235.75L1581.05 208.75L1585.95 208.05L1612.95 208.05L1612.95 235.05L1608.05 235.75Z"/>
<path d="M520.8 545.15L527.4 539.65" fill="none" stroke="#000" stroke-width="31.2" stroke-linecap="round"/>
<path d="M602 485.75L608.6 482.25" fill="none" stroke="#000" stroke-width="31.2" stroke-linecap="round"/>
<path d="M689.7 438.2L695.5 435.4" fill="none" stroke="#000" stroke-width="31.2" stroke-linecap="round"/>
<path d="M788.95 393.05L793.25 391.35" fill="none" stroke="#000" stroke-width="31.2" stroke-linecap="round"/>
<path d="M853.7 368.15L859.5 364.65" fill="none" stroke="#000" stroke-width="31.2" stroke-linecap="round"/>
<path d="M955.5 331.35L961.3 328.65" fill="none" stroke="#000" stroke-width="31.2" stroke-linecap="round"/>
<path d="M1029.5 308.25L1036.3 305.55" fill="none" stroke="#000" stroke-width="31.2" stroke-linecap="round"/>
<path d="M1108.35 285.95L1114.45 283.45" fill="none" stroke="#000" stroke-width="31.2" stroke-linecap="round"/>
<path d="M1168.15 270.4L1174.25 268.4" fill="none" stroke="#000" stroke-width="31.2" stroke-linecap="round"/>
<path d="M1346.2 230.2L1354.8 228.4" fill="none" stroke="#000" stroke-width="31.2" stroke-linecap="round"/>
<path d="M1452.6 210.05L1461.2 207.55" fill="none" stroke="#000" stroke-width="31.2" stroke-linecap="round"/>
<path d="M1594.65 186.25L1599.15 185.35" fill="none" stroke="#000" stroke-width="31.2" stroke-linecap="round"/>
<path d="M526.9 454L545.2 486L539.4 492.5L502.8 492.5L521.1 460.5Z"/>
<path d="M608.8 389.8L627.1 421.8L620.5 427L583.9 427L602.2 395Z"/>
<path d="M695.6 340L713.9 372L707.7 374.5L671.1 374.5L689.4 342.5Z"/>
<path d="M793.9 291L812.2 323L808.2 325.2L771.6 325.2L789.9 293.2Z"/>
<path d="M859.65 262.7L877.95 294.7L871.65 297.7L835.05 297.7L853.35 265.7Z"/>
<path d="M961.65 223.7L979.95 255.7L973.65 258.4L937.05 258.4L955.35 226.4Z"/>
<path d="M1035.6 198.5L1053.9 230.5L1047.9 233.4L1011.3 233.4L1029.6 201.4Z"/>
<path d="M1114.8 175.6L1133.1 207.6L1126.5 209.6L1089.9 209.6L1108.2 177.6Z"/>
<path d="M1174.8 159L1193.1 191L1186.5 193.6L1149.9 193.6L1168.2 161.6Z"/>
<path d="M1354.6 116.6L1372.9 148.6L1364.3 150.5L1327.7 150.5L1346 118.5Z"/>
<path d="M1460.9 94.8L1479.2 126.8L1470.6 129.7L1434 129.7L1452.3 97.7Z"/>
<path d="M1598.8 71.4L1617.1 103.4L1613.9 104.3L1577.3 104.3L1595.6 72.3Z"/>
<rect x="1308" y="772" width="28" height="28"/>
<circle cx="1322" cy="864" r="15.2"/>
<path d="M1322 921.7L1340.1 954L1303.9 954Z"/>
</g>
<path d="M1392 785.2H1538" stroke="#000" stroke-width="3.2" fill="none"/>
<path d="M1392 864.1H1538" stroke="#000" stroke-width="3.2" fill="none"/>
<path d="M1392 942.3H1538" stroke="#000" stroke-width="3.2" fill="none"/>
<g fill="#000">
<g><text transform="translate(1568.5 807.8) scale(0.89 1)" font-family="'Liberation Serif', 'Noto Serif CJK SC', serif" font-size="69">35</text><text x="1633.4" y="809.4" font-family="IPAGothic, 'Noto Sans CJK JP', 'Liberation Serif', serif" font-size="59" stroke="#fff" stroke-width="1">℃</text></g>
<g><text transform="translate(1568.5 885.5) scale(0.89 1)" font-family="'Liberation Serif', 'Noto Serif CJK SC', serif" font-size="69">50</text><text x="1633.4" y="887.1" font-family="IPAGothic, 'Noto Sans CJK JP', 'Liberation Serif', serif" font-size="59" stroke="#fff" stroke-width="1">℃</text></g>
<g><text transform="translate(1568.5 964.7) scale(0.89 1)" font-family="'Liberation Serif', 'Noto Serif CJK SC', serif" font-size="69">70</text><text x="1633.4" y="966.3" font-family="IPAGothic, 'Noto Sans CJK JP', 'Liberation Serif', serif" font-size="59" stroke="#fff" stroke-width="1">℃</text></g>
</g>
</g>
<g id="plot-b">
<rect x="189" y="1473" width="1609" height="1190.5" fill="none" stroke="#000" stroke-width="6"/>
<path d="M283.65 2663.5V2639M472.94 2663.5V2639M662.24 2663.5V2639M851.53 2663.5V2639M1040.82 2663.5V2639M1230.12 2663.5V2639M1419.41 2663.5V2639M1608.71 2663.5V2639" fill="none" stroke="#000" stroke-width="5" stroke-linecap="round"/>
<path d="M378.29 2663.5V2650M567.59 2663.5V2650M756.88 2663.5V2650M946.18 2663.5V2650M1135.47 2663.5V2650M1324.76 2663.5V2650M1514.06 2663.5V2650M1703.35 2663.5V2650" fill="none" stroke="#000" stroke-width="5" stroke-linecap="round"/>
<path d="M189 2564.29H213.5M189 2365.88H213.5M189 2167.46H213.5M189 1969.04H213.5M189 1770.62H213.5M189 1572.21H213.5" fill="none" stroke="#000" stroke-width="5" stroke-linecap="round"/>
<path d="M189 2465.08H202.5M189 2266.67H202.5M189 2068.25H202.5M189 1869.83H202.5M189 1671.42H202.5" fill="none" stroke="#000" stroke-width="5" stroke-linecap="round"/>
<g fill="#000">
<text transform="translate(283.65 2727) scale(0.99 1.04)" font-family="'Liberation Sans', sans-serif" font-size="48" text-anchor="middle">0</text>
<text transform="translate(472.94 2727) scale(0.99 1.04)" font-family="'Liberation Sans', sans-serif" font-size="48" text-anchor="middle">500</text>
<text transform="translate(662.24 2727) scale(0.99 1.04)" font-family="'Liberation Sans', sans-serif" font-size="48" text-anchor="middle">1000</text>
<text transform="translate(851.53 2727) scale(0.99 1.04)" font-family="'Liberation Sans', sans-serif" font-size="48" text-anchor="middle">1500</text>
<text transform="translate(1040.82 2727) scale(0.99 1.04)" font-family="'Liberation Sans', sans-serif" font-size="48" text-anchor="middle">2000</text>
<text transform="translate(1230.12 2727) scale(0.99 1.04)" font-family="'Liberation Sans', sans-serif" font-size="48" text-anchor="middle">2500</text>
<text transform="translate(1419.41 2727) scale(0.99 1.04)" font-family="'Liberation Sans', sans-serif" font-size="48" text-anchor="middle">3000</text>
<text transform="translate(1608.71 2727) scale(0.99 1.04)" font-family="'Liberation Sans', sans-serif" font-size="48" text-anchor="middle">3500</text>
<text transform="translate(1798 2727) scale(0.99 1.04)" font-family="'Liberation Sans', sans-serif" font-size="48" text-anchor="middle">4000</text>
<text transform="translate(165 2577.29) scale(0.99 1.04)" font-family="'Liberation Sans', sans-serif" font-size="48" text-anchor="end">0.0</text>
<text transform="translate(165 2378.88) scale(0.99 1.04)" font-family="'Liberation Sans', sans-serif" font-size="48" text-anchor="end">0.2</text>
<text transform="translate(165 2180.46) scale(0.99 1.04)" font-family="'Liberation Sans', sans-serif" font-size="48" text-anchor="end">0.4</text>
<text transform="translate(165 1982.04) scale(0.99 1.04)" font-family="'Liberation Sans', sans-serif" font-size="48" text-anchor="end">0.6</text>
<text transform="translate(165 1783.62) scale(0.99 1.04)" font-family="'Liberation Sans', sans-serif" font-size="48" text-anchor="end">0.8</text>
<text transform="translate(165 1585.21) scale(0.99 1.04)" font-family="'Liberation Sans', sans-serif" font-size="48" text-anchor="end">1.0</text>
<text x="993" y="2819" font-family="'Liberation Sans', sans-serif" font-size="59" text-anchor="middle">Time (s)</text>
<text transform="translate(57.5 2106.5) rotate(-90)" font-family="'Liberation Sans', sans-serif" font-size="58.5" text-anchor="middle">Desorption proportion</text>
<text x="257" y="1571" font-family="'Liberation Sans', sans-serif" font-size="74" text-anchor="start">(b)</text>
</g>
<path d="M283.84 2563.99L283.82 2560.51L283.82 2557.04L283.81 2553.57L283.8 2550.1L283.8 2546.62L283.8 2543.15L283.8 2539.68L283.8 2536.21L283.8 2532.73L283.81 2529.26L283.81 2525.79L283.82 2522.31L283.83 2518.84L283.84 2515.37L283.86 2511.89L283.87 2508.42L283.89 2504.95L283.91 2501.47L283.93 2498L283.95 2494.53L283.97 2491.05L284 2487.58L284.02 2484.11L284.05 2480.63L284.08 2477.16L284.11 2473.68L284.15 2470.21L284.18 2466.74L284.22 2463.26L284.26 2459.79L284.29 2456.31L284.34 2452.84L284.38 2449.36L284.42 2445.89L284.47 2442.42L284.52 2438.94L284.57 2435.47L284.62 2431.99L284.67 2428.52L284.72 2425.04L284.78 2421.57L284.84 2418.09L284.9 2414.62L284.96 2411.15L285.02 2407.67L285.08 2404.2L285.15 2400.72L285.21 2397.25L285.28 2393.77L285.35 2390.3L285.42 2386.82L285.49 2383.35L285.57 2379.87L285.64 2376.4L285.72 2372.92L285.8 2369.45L285.88 2365.98L285.96 2362.5L286.04 2359.03L286.13 2355.55L286.21 2352.08L286.3 2348.6L286.39 2345.13L286.48 2341.65L286.57 2338.18L286.66 2334.71L286.76 2331.23L286.85 2327.76L286.95 2324.28L287.05 2320.81L287.15 2317.33L287.25 2313.86L287.36 2310.39L287.46 2306.91L287.57 2303.44L287.67 2299.96L287.78 2296.49L287.89 2293.02L288 2289.54L288.12 2286.07L288.23 2282.59L288.35 2279.12L288.46 2275.65L288.58 2272.17L288.7 2268.7L288.82 2265.23L288.94 2261.75L289.07 2258.28L289.19 2254.81L289.32 2251.33L289.45 2247.86L289.58 2244.39L289.71 2240.91L289.84 2237.44L289.97 2233.97L290.1 2230.5L290.24 2227.02L290.38 2223.55L290.51 2220.08L290.65 2216.61L290.79 2213.13L290.94 2209.66L291.08 2206.19L291.22 2202.72L291.37 2199.25L291.52 2195.78L291.66 2192.3L291.81 2188.83L291.97 2185.36L292.12 2181.89L292.28 2178.42L292.44 2174.95L292.6 2171.48L292.76 2168.01L292.93 2164.54L293.11 2161.07L293.28 2157.6L293.46 2154.13L293.65 2150.67L293.84 2147.2L294.03 2143.73L294.23 2140.27L294.43 2136.8L294.64 2133.33L294.85 2129.87L295.08 2126.41L295.3 2122.94L295.53 2119.48L295.77 2116.02L296.02 2112.55L296.27 2109.09L296.53 2105.63L296.8 2102.17L297.08 2098.72L297.36 2095.26L297.65 2091.8L297.95 2088.34L298.26 2084.89L298.58 2081.43L298.9 2077.98L299.24 2074.53L299.58 2071.08L299.94 2067.63L300.3 2064.18L300.68 2060.73L301.06 2057.28L301.46 2053.83L301.87 2050.39L302.28 2046.94L302.71 2043.5L303.15 2040.06L303.61 2036.62L304.07 2033.18L304.55 2029.74L305.04 2026.31L305.54 2022.87L306.05 2019.44L306.58 2016L307.12 2012.57L307.68 2009.14L308.25 2005.71L308.83 2002.29L309.43 1998.86L310.04 1995.44L310.66 1992.01L311.3 1988.59L311.96 1985.18L312.63 1981.76L313.32 1978.35L314.03 1974.94L314.75 1971.53L315.49 1968.13L316.24 1964.73L317.02 1961.33L317.81 1957.94L318.62 1954.55L319.44 1951.17L320.29 1947.79L321.16 1944.42L322.04 1941.05L322.95 1937.69L323.87 1934.33L324.82 1930.98L325.78 1927.64L326.77 1924.3L327.77 1920.97L328.8 1917.64L329.85 1914.32L330.93 1911.01L332.02 1907.71L333.14 1904.41L334.28 1901.13L335.45 1897.85L336.63 1894.58L337.85 1891.31L339.08 1888.06L340.34 1884.82L341.63 1881.58L342.94 1878.36L344.27 1875.14L345.64 1871.94L347.03 1868.75L348.45 1865.57L349.89 1862.41L351.37 1859.26L352.87 1856.13L354.41 1853.01L355.98 1849.91L357.58 1846.83L359.21 1843.77L360.87 1840.73L362.57 1837.71L364.3 1834.71L366.06 1831.73L367.86 1828.78L369.7 1825.85L371.57 1822.94L373.48 1820.06L375.43 1817.21L377.42 1814.38L379.44 1811.58L381.51 1808.81L383.61 1806.07L385.74 1803.36L387.92 1800.67L390.13 1798.02L392.37 1795.39L394.65 1792.8L396.96 1790.23L399.31 1787.69L401.68 1785.19L404.09 1782.72L406.53 1780.27L409 1777.86L411.5 1775.48L414.03 1773.13L416.58 1770.82L419.17 1768.53L421.78 1766.27L424.42 1764.04L427.08 1761.85L429.77 1759.68L432.49 1757.54L435.23 1755.43L437.99 1753.35L440.78 1751.3L443.59 1749.27L446.42 1747.28L449.28 1745.31L452.16 1743.36L455.05 1741.45L457.97 1739.56L460.91 1737.7L463.86 1735.86L466.84 1734.05L469.83 1732.27L472.84 1730.51L475.87 1728.77L478.91 1727.07L481.97 1725.38L485.05 1723.72L488.14 1722.08L491.24 1720.47L494.36 1718.88L497.49 1717.31L500.63 1715.77L503.79 1714.25L506.95 1712.75L510.13 1711.27L513.32 1709.82L516.52 1708.38L519.72 1706.97L522.94 1705.58L526.16 1704.21L529.39 1702.86L532.63 1701.53L535.88 1700.22L539.13 1698.93L542.38 1697.65L545.64 1696.4L548.91 1695.17L552.18 1693.95L555.45 1692.75L558.73 1691.57L562.02 1690.41L565.3 1689.27L568.6 1688.14L571.89 1687.03L575.19 1685.94L578.5 1684.86L581.81 1683.8L585.12 1682.76L588.43 1681.73L591.75 1680.71L595.08 1679.72L598.4 1678.73L601.74 1677.77L605.07 1676.81L608.41 1675.87L611.75 1674.95L615.09 1674.04L618.44 1673.14L621.79 1672.25L625.15 1671.38L628.5 1670.52L631.86 1669.68L635.23 1668.84L638.59 1668.02L641.96 1667.21L645.33 1666.41L648.71 1665.62L652.08 1664.85L655.46 1664.08L658.84 1663.33L662.23 1662.58L665.61 1661.85L669 1661.12L672.39 1660.41L675.78 1659.7L679.18 1659.01L682.58 1658.32L685.97 1657.64L689.37 1656.97L692.78 1656.31L696.18 1655.65L699.59 1655L702.99 1654.36L706.4 1653.73L709.81 1653.1L713.22 1652.49L716.63 1651.87L720.05 1651.27L723.46 1650.67L726.88 1650.07L730.3 1649.48L733.71 1648.9L737.13 1648.32L740.55 1647.75L743.98 1647.18L747.4 1646.62L750.82 1646.06L754.25 1645.51L757.67 1644.97L761.1 1644.43L764.53 1643.9L767.96 1643.37L771.39 1642.85L774.82 1642.33L778.25 1641.82L781.68 1641.31L785.12 1640.81L788.55 1640.31L791.99 1639.82L795.42 1639.33L798.86 1638.85L802.3 1638.37L805.74 1637.9L809.18 1637.43L812.62 1636.97L816.06 1636.51L819.5 1636.06L822.95 1635.61L826.39 1635.16L829.84 1634.72L833.28 1634.29L836.73 1633.86L840.18 1633.43L843.62 1633.01L847.07 1632.59L850.52 1632.18L853.97 1631.77L857.42 1631.37L860.88 1630.97L864.33 1630.57L867.78 1630.18L871.23 1629.79L874.69 1629.41L878.14 1629.03L881.6 1628.65L885.06 1628.28L888.51 1627.91L891.97 1627.55L895.43 1627.19L898.89 1626.83L902.35 1626.48L905.81 1626.13L909.27 1625.78L912.73 1625.44L916.19 1625.1L919.65 1624.77L923.11 1624.44L926.57 1624.11L930.04 1623.78L933.5 1623.46L936.96 1623.14L940.43 1622.83L943.89 1622.52L947.36 1622.21L950.83 1621.9L954.29 1621.6L957.76 1621.3L961.22 1621.01L964.69 1620.71L968.16 1620.42L971.63 1620.13L975.1 1619.85L978.56 1619.57L982.03 1619.29L985.5 1619.01L988.97 1618.74L992.44 1618.47L995.91 1618.2L999.38 1617.93L1002.85 1617.67L1006.32 1617.41L1009.79 1617.15L1013.26 1616.89L1016.73 1616.64L1020.2 1616.38L1023.68 1616.13L1027.15 1615.89L1030.62 1615.64L1034.09 1615.4L1037.56 1615.16L1041.03 1614.92L1044.51 1614.68L1047.98 1614.45L1051.45 1614.21L1054.92 1613.98L1058.39 1613.75L1061.87 1613.52L1065.34 1613.3L1068.81 1613.07L1072.28 1612.85L1075.75 1612.63L1079.23 1612.41L1082.7 1612.19L1086.17 1611.98L1089.64 1611.76L1093.11 1611.55L1096.59 1611.34L1100.06 1611.13L1103.53 1610.92L1107 1610.71L1110.47 1610.5L1113.94 1610.29L1117.41 1610.09L1120.89 1609.89L1124.36 1609.68L1127.83 1609.48L1131.3 1609.28L1134.77 1609.08L1138.24 1608.89L1141.71 1608.69L1145.18 1608.49L1148.65 1608.3L1152.12 1608.11L1155.59 1607.91L1159.06 1607.72L1162.53 1607.53L1166 1607.34L1169.47 1607.16L1172.93 1606.97L1176.4 1606.79L1179.87 1606.6L1183.34 1606.42L1186.81 1606.24L1190.28 1606.06L1193.75 1605.88L1197.22 1605.7L1200.68 1605.52L1204.15 1605.34L1207.62 1605.17L1211.09 1605L1214.56 1604.82L1218.03 1604.65L1221.49 1604.48L1224.96 1604.31L1228.43 1604.14L1231.9 1603.98L1235.37 1603.81L1238.83 1603.64L1242.3 1603.48L1245.77 1603.32L1249.24 1603.16L1252.71 1602.99L1256.17 1602.84L1259.64 1602.68L1263.11 1602.52L1266.58 1602.36L1270.04 1602.21L1273.51 1602.05L1276.98 1601.9L1280.45 1601.75L1283.92 1601.6L1287.38 1601.45L1290.85 1601.3L1294.32 1601.15L1297.79 1601L1301.25 1600.86L1304.72 1600.71L1308.19 1600.57L1311.66 1600.43L1315.12 1600.29L1318.59 1600.15L1322.06 1600.01L1325.53 1599.87L1329 1599.73L1332.46 1599.59L1335.93 1599.46L1339.4 1599.32L1342.87 1599.19L1346.34 1599.06L1349.8 1598.93L1353.27 1598.8L1356.74 1598.67L1360.21 1598.54L1363.68 1598.41L1367.14 1598.29L1370.61 1598.16L1374.08 1598.04L1377.55 1597.92L1381.02 1597.79L1384.49 1597.67L1387.96 1597.55L1391.42 1597.43L1394.89 1597.31L1398.36 1597.2L1401.83 1597.08L1405.3 1596.97L1408.77 1596.85L1412.24 1596.74L1415.71 1596.63L1419.18 1596.52L1422.65 1596.41L1426.12 1596.3L1429.59 1596.19L1433.06 1596.08L1436.53 1595.98L1440 1595.87L1443.47 1595.77L1446.94 1595.66L1450.41 1595.56L1453.88 1595.46L1457.35 1595.36L1460.82 1595.26L1464.3 1595.16L1467.77 1595.06L1471.24 1594.97L1474.71 1594.87L1478.18 1594.78L1481.65 1594.68L1485.13 1594.59L1488.6 1594.5L1492.07 1594.41L1495.54 1594.32L1499.02 1594.23L1502.49 1594.14L1505.96 1594.05L1509.44 1593.96L1512.91 1593.88L1516.38 1593.79L1519.86 1593.71L1523.33 1593.63L1526.8 1593.55L1530.28 1593.47L1533.75 1593.39L1537.23 1593.31L1540.7 1593.23L1544.18 1593.15L1547.65 1593.07L1551.13 1593L1554.61 1592.92L1558.08 1592.85L1561.56 1592.78L1565.03 1592.71L1568.51 1592.63L1571.99 1592.56L1575.47 1592.5L1578.94 1592.43L1582.42 1592.36L1585.9 1592.29L1589.38 1592.23L1592.86 1592.16L1596.33 1592.1L1599.81 1592.03L1603.29 1591.97L1606.77 1591.91L1610.25 1591.85L1613.73 1591.79L1617.21 1591.73L1620.69 1591.67L1624.17 1591.62L1627.65 1591.56L1631.13 1591.5L1634.62 1591.45L1638.1 1591.4L1641.58 1591.34L1645.06 1591.29" fill="none" stroke="#000" stroke-width="6.6" stroke-linejoin="round" stroke-linecap="round"/>
<path d="M328.4 2084.61L330.67 2077.87L332.93 2071.45L335.2 2065.33M350.76 2029.63L353.18 2024.88L355.6 2020.29L358.02 2015.88L360.44 2011.62M384.7 1975.45L387.3 1972.11L389.9 1968.85L392.5 1965.67L395.1 1962.56L397.7 1959.51L400.3 1956.54M438.55 1918.75L441.53 1916.18L444.52 1913.66L447.5 1911.18L450.48 1908.75L453.47 1906.35L456.45 1904M486.28 1882.47L489.27 1880.49L492.26 1878.54L495.25 1876.62L498.24 1874.72L501.23 1872.86L504.22 1871.02M539.66 1851.16L542.66 1849.63L545.65 1848.12L548.65 1846.63L551.65 1845.16L554.64 1843.72L557.64 1842.29M592.57 1826.99L595.15 1825.94L597.73 1824.91L600.31 1823.89L602.89 1822.88L605.47 1821.88L608.05 1820.9L610.63 1819.92M646.84 1807.12L649.68 1806.18L652.51 1805.25L655.35 1804.33L658.19 1803.42L661.02 1802.52L663.86 1801.63M697.68 1791.47L700.34 1790.71L703 1789.95L705.67 1789.19L708.33 1788.44L711 1787.69L713.66 1786.95L716.32 1786.22M750.2 1777.22L753.06 1776.49L755.92 1775.77L758.77 1775.05L761.63 1774.34L764.48 1773.63L767.34 1772.93L770.2 1772.23M804.12 1764.27L806.79 1763.67L809.45 1763.08L812.12 1762.48L814.78 1761.89L817.45 1761.31L820.11 1760.73L822.78 1760.15M857.24 1752.98L860.03 1752.43L862.82 1751.88L865.61 1751.33L868.39 1750.78L871.18 1750.24L873.97 1749.7L876.76 1749.17M910.25 1743L912.99 1742.51L915.74 1742.03L918.48 1741.55L921.22 1741.08L923.96 1740.6L926.71 1740.13L929.45 1739.67M962.96 1734.17L965.79 1733.73L968.61 1733.29L971.44 1732.85L974.26 1732.41L977.09 1731.98L979.91 1731.54L982.74 1731.12M1015.37 1726.34L1018.36 1725.91L1021.36 1725.49L1024.35 1725.08L1027.35 1724.66L1030.34 1724.25L1033.34 1723.84L1036.33 1723.43M1068.07 1719.25L1071.02 1718.87L1073.97 1718.5L1076.92 1718.13L1079.88 1717.76L1082.83 1717.39L1085.78 1717.02L1088.73 1716.66M1121.28 1712.76L1123.92 1712.45L1126.56 1712.14L1129.21 1711.84L1131.85 1711.54L1134.49 1711.23L1137.14 1710.93L1139.78 1710.63L1142.42 1710.33M1173.88 1706.86L1176.86 1706.54L1179.83 1706.22L1182.81 1705.9L1185.79 1705.58L1188.77 1705.26L1191.74 1704.95L1194.72 1704.64M1237.08 1700.32L1239.76 1700.05L1242.44 1699.79L1245.12 1699.52L1247.8 1699.26L1250.48 1699L1253.16 1698.74L1255.84 1698.48L1258.52 1698.22M1289.79 1695.26L1292.78 1694.99L1295.77 1694.71L1298.76 1694.44L1301.74 1694.16L1304.73 1693.89L1307.72 1693.62L1310.71 1693.35M1342.99 1690.48L1345.69 1690.24L1348.39 1690L1351.1 1689.77L1353.8 1689.54L1356.5 1689.3L1359.21 1689.07L1361.91 1688.84L1364.61 1688.61M1395.99 1685.97L1398.95 1685.72L1401.91 1685.48L1404.87 1685.24L1407.83 1684.99L1410.79 1684.75L1413.75 1684.51L1416.71 1684.27M1448.59 1681.7L1451.3 1681.49L1454.02 1681.27L1456.73 1681.06L1459.45 1680.84L1462.17 1680.63L1464.88 1680.42L1467.6 1680.2L1470.31 1679.99M1501.79 1677.55L1504.44 1677.35L1507.1 1677.14L1509.75 1676.94L1512.4 1676.74L1515.05 1676.53L1517.7 1676.33L1520.36 1676.13L1523.01 1675.93M1556.29 1673.41L1559.24 1673.19L1562.18 1672.96L1565.13 1672.74L1568.07 1672.52L1571.02 1672.3L1573.96 1672.08L1576.91 1671.86M1607.89 1669.54L1610.61 1669.34L1613.32 1669.14L1616.04 1668.93L1618.75 1668.73L1621.46 1668.53L1624.18 1668.32L1626.89 1668.12L1629.61 1667.92" fill="none" stroke="#000" stroke-width="6.6" stroke-linecap="round" stroke-linejoin="round"/>
<path d="M282.96 2563.94L283.01 2562.65L283.07 2561.36L283.12 2560.07L283.18 2558.78L283.23 2557.49L283.28 2556.2L283.33 2554.91L283.38 2553.61L283.43 2552.32L283.48 2551.03L283.53 2549.74L283.58 2548.45L283.63 2547.16L283.68 2545.87L283.72 2544.58L283.77 2543.29L283.82 2542L283.86 2540.71L283.91 2539.43L283.95 2538.14L283.99 2536.85L284.04 2535.56L284.08 2534.27L284.12 2532.98L284.17 2531.69L284.21 2530.4L284.25 2529.11L284.29 2527.82L284.33 2526.53L284.37 2525.24L284.41 2523.95L284.45 2522.66L284.49 2521.37L284.53 2520.08L284.56 2518.8L284.6 2517.51L284.64 2516.22L284.67 2514.93L284.71 2513.64L284.75 2512.35L284.78 2511.06L284.82 2509.77L284.85 2508.48L284.89 2507.2L284.92 2505.91L284.96 2504.62L284.99 2503.33L285.03 2502.04L285.06 2500.75L285.09 2499.46L285.12 2498.18L285.16 2496.89L285.19 2495.6L285.22 2494.31L285.25 2493.02L285.29 2491.73L285.32 2490.45L285.35 2489.16L285.38 2487.87L285.41 2486.58L285.44 2485.29L285.47 2484.01L285.5 2482.72L285.53 2481.43L285.56 2480.14L285.59 2478.85L285.62 2477.57L285.65 2476.28L285.68 2474.99L285.71 2473.7L285.74 2472.42L285.77 2471.13L285.8 2469.84L285.83 2468.55L285.86 2467.27L285.89 2465.98L285.92 2464.69L285.95 2463.4L285.98 2462.12L286 2460.83L286.03 2459.54L286.06 2458.25L286.09 2456.97L286.12 2455.68L286.15 2454.39L286.18 2453.1L286.21 2451.82L286.24 2450.53L286.27 2449.24L286.3 2447.96L286.32 2446.67L286.35 2445.38L286.38 2444.1L286.41 2442.81L286.44 2441.52L286.47 2440.23L286.5 2438.95L286.53 2437.66L286.56 2436.37L286.59 2435.09L286.62 2433.8L286.65 2432.51L286.68 2431.23L286.71 2429.94L286.75 2428.65L286.78 2427.37L286.81 2426.08L286.84 2424.79L286.87 2423.51L286.9 2422.22L286.94 2420.93L286.97 2419.65L287 2418.36L287.03 2417.08L287.07 2415.79L287.1 2414.5L287.13 2413.22L287.17 2411.93L287.2 2410.64L287.24 2409.36L287.27 2408.07L287.31 2406.78L287.34 2405.5L287.38 2404.21L287.41 2402.93L287.45 2401.64L287.49 2400.35L287.53 2399.07L287.56 2397.78L287.6 2396.5L287.64 2395.21L287.68 2393.92L287.72 2392.64L287.76 2391.35L287.8 2390.07L287.84 2388.78L287.88 2387.49L287.92 2386.21L287.96 2384.92L288 2383.64L288.05 2382.35L288.09 2381.06L288.13 2379.78L288.18 2378.49L288.22 2377.21L288.27 2375.92L288.31 2374.63L288.36 2373.35L288.4 2372.06L288.45 2370.78L288.5 2369.49L288.55 2368.21L288.6 2366.92L288.64 2365.64L288.69 2364.35L288.74 2363.06L288.8 2361.78L288.85 2360.49L288.9 2359.21L288.95 2357.92L289.01 2356.64L289.06 2355.35L289.11 2354.06L289.17 2352.78L289.23 2351.49L289.28 2350.21L289.34 2348.92L289.4 2347.64L289.46 2346.35L289.52 2345.07L289.58 2343.78L289.64 2342.5L289.7 2341.21L289.76 2339.92L289.82 2338.64L289.89 2337.35L289.95 2336.07L290.02 2334.78L290.08 2333.5L290.15 2332.21L290.22 2330.93L290.29 2329.64L290.36 2328.36L290.42 2327.07L290.5 2325.79L290.57 2324.5L290.64 2323.22L290.71 2321.93L290.79 2320.64L290.86 2319.36L290.94 2318.07L291.01 2316.79L291.09 2315.5L291.17 2314.22L291.25 2312.93L291.33 2311.65L291.41 2310.36L291.49 2309.08L291.58 2307.79L291.66 2306.51L291.74 2305.22L291.83 2303.94L291.92 2302.65L292 2301.37L292.09 2300.08L292.18 2298.8L292.27 2297.51L292.36 2296.22L292.46 2294.94L292.55 2293.65L292.64 2292.37L292.74 2291.08L292.84 2289.8L292.93 2288.51L293.03 2287.23L293.13 2285.94L293.23 2284.66L293.34 2283.37L293.44 2282.09L293.54 2280.8L293.65 2279.52L293.75 2278.23L293.86 2276.95L293.97 2275.66L294.08 2274.38L294.19 2273.09L294.3 2271.81L294.41 2270.52L294.53 2269.24L294.64 2267.95L294.76 2266.67L294.88 2265.38L295 2264.09L295.12 2262.81L295.24 2261.52L295.36 2260.24L295.48 2258.95L295.61 2257.67L295.74 2256.38L295.86 2255.1L295.99 2253.81L296.12 2252.53L296.25 2251.24L296.39 2249.96L296.52 2248.67L296.65 2247.39L296.79 2246.1L296.93 2244.82L297.07 2243.53L297.21 2242.24L297.35 2240.96L297.49 2239.67L297.64 2238.39L297.78 2237.1L297.93 2235.82L298.08 2234.53L298.23 2233.25L298.38 2231.96L298.53 2230.68L298.69 2229.39L298.84 2228.11L299 2226.82L299.16 2225.53L299.32 2224.25L299.48 2222.96L299.64 2221.68L299.8 2220.39L299.97 2219.11L300.14 2217.82L300.31 2216.54L300.48 2215.25L300.65 2213.97L300.82 2212.68L300.99 2211.39L301.17 2210.11L301.35 2208.82L301.53 2207.54L301.71 2206.25L301.89 2204.97L302.07 2203.68L302.26 2202.39L302.45 2201.11L302.63 2199.82L302.82 2198.54L303.02 2197.25L303.21 2195.97L303.4 2194.68L303.6 2193.39L303.8 2192.11L304 2190.82L304.2 2189.54L304.4 2188.25L304.61 2186.97L304.82 2185.68L305.02 2184.39L305.23 2183.11L305.44 2181.82L305.66 2180.54L305.87 2179.25L306.09 2177.97L306.31 2176.68L306.53 2175.4L306.75 2174.11L306.98 2172.83L307.2 2171.54L307.43 2170.26L307.66 2168.97L307.89 2167.69L308.13 2166.41L308.37 2165.12L308.6 2163.84L308.84 2162.56L309.09 2161.28L309.33 2160L309.58 2158.71L309.82 2157.43L310.08 2156.15L310.33 2154.87L310.58 2153.59L310.84 2152.31L311.1 2151.04L311.36 2149.76L311.62 2148.48L311.89 2147.2L312.16 2145.93L312.43 2144.65L312.7 2143.38L312.98 2142.1L313.25 2140.83L313.53 2139.56L313.82 2138.28L314.1 2137.01L314.39 2135.74L314.68 2134.47L314.97 2133.2L315.26 2131.93L315.56 2130.66L315.86 2129.4L316.16 2128.13L316.46 2126.86L316.77 2125.6L317.08 2124.34L317.39 2123.07L317.71 2121.81L318.02 2120.55L318.34 2119.29L318.67 2118.03L318.99 2116.77L319.32 2115.52L319.65 2114.26L319.98 2113L320.32 2111.75L320.66 2110.5L321 2109.25L321.34 2107.99L321.69 2106.75" fill="none" stroke="#000" stroke-width="6.6" stroke-linecap="round" stroke-dasharray="24 29"/>
<path d="M363.99 2157.33L366.75 2153.36L369.51 2149.51L372.27 2145.78L375.03 2142.14L377.79 2138.6L380.55 2135.15L383.31 2131.78M419.48 2093.36L422.37 2090.65L425.27 2087.98L428.16 2085.36L431.05 2082.78L433.95 2080.24L436.84 2077.73L439.73 2075.27L442.63 2072.84L445.52 2070.45M488.07 2038.84L490.75 2037.04L493.44 2035.26L496.12 2033.5L498.8 2031.76L501.48 2030.04L504.16 2028.34L506.85 2026.66L509.53 2024.99M555.05 1999.15L557.68 1997.78L560.32 1996.42L562.96 1995.07L565.6 1993.73L568.24 1992.4L570.88 1991.09L573.52 1989.79L576.15 1988.5M621.05 1968.04L623.8 1966.87L626.54 1965.72L629.28 1964.57L632.03 1963.43L634.77 1962.31L637.52 1961.19L640.26 1960.07L643 1958.97L645.75 1957.88M685.32 1943L688.14 1942L690.96 1941.01L693.78 1940.02L696.6 1939.04L699.42 1938.07L702.24 1937.11L705.06 1936.15L707.88 1935.2M753.47 1920.73L756.36 1919.87L759.26 1919.01L762.15 1918.15L765.05 1917.3L767.95 1916.46L770.84 1915.62L773.74 1914.79L776.63 1913.96M818.2 1902.62L821.15 1901.85L824.1 1901.09L827.05 1900.33L830 1899.57L832.95 1898.82L835.9 1898.07L838.85 1897.32L841.8 1896.58M888.22 1885.37L891.12 1884.69L894.03 1884.02L896.94 1883.35L899.85 1882.68L902.76 1882.02L905.67 1881.35L908.58 1880.69L911.48 1880.04M955.23 1870.5L958.11 1869.89L960.99 1869.29L963.87 1868.68L966.75 1868.09L969.63 1867.49L972.51 1866.9L975.39 1866.3L978.27 1865.72M1020.54 1857.36L1023.39 1856.81L1026.24 1856.27L1029.08 1855.73L1031.93 1855.19L1034.77 1854.66L1037.62 1854.12L1040.46 1853.59L1043.31 1853.06L1046.16 1852.54M1086.55 1845.3L1089.49 1844.79L1092.42 1844.28L1095.35 1843.78L1098.28 1843.27L1101.22 1842.77L1104.15 1842.27L1107.08 1841.78L1110.01 1841.28L1112.95 1840.79M1152.86 1834.29L1155.6 1833.86L1158.34 1833.43L1161.07 1833L1163.81 1832.57L1166.55 1832.14L1169.29 1831.72L1172.03 1831.3L1174.76 1830.88L1177.5 1830.46L1180.24 1830.04M1236.87 1821.74L1239.62 1821.35L1242.38 1820.96L1245.14 1820.57L1247.89 1820.19L1250.65 1819.81L1253.41 1819.43L1256.16 1819.05L1258.92 1818.67L1261.68 1818.29L1264.43 1817.91M1303.87 1812.68L1306.86 1812.29L1309.84 1811.9L1312.82 1811.52L1315.81 1811.14L1318.79 1810.76L1321.78 1810.38L1324.76 1810L1327.74 1809.63L1330.73 1809.25M1370.78 1804.34L1373.76 1803.98L1376.74 1803.62L1379.73 1803.27L1382.71 1802.92L1385.69 1802.56L1388.67 1802.21L1391.66 1801.86L1394.64 1801.51L1397.62 1801.16M1437.78 1796.57L1440.74 1796.24L1443.7 1795.91L1446.66 1795.58L1449.62 1795.25L1452.58 1794.92L1455.54 1794.6L1458.5 1794.27L1461.46 1793.95L1464.42 1793.62M1503.88 1789.37L1506.62 1789.08L1509.35 1788.79L1512.08 1788.5L1514.82 1788.21L1517.55 1787.92L1520.28 1787.64L1523.02 1787.35L1525.75 1787.06L1528.48 1786.78L1531.22 1786.49M1570.68 1782.43L1573.44 1782.15L1576.19 1781.86L1578.94 1781.59L1581.7 1781.31L1584.45 1781.03L1587.2 1780.75L1589.96 1780.47L1592.71 1780.19L1595.46 1779.91L1598.22 1779.64M349.79 2179.99L352.21 2175.84M396.17 2117.01L399.43 2113.48M463.68 2056.2L467.52 2053.33M529.51 2013.11L533.69 2010.74M596.22 1979.01L600.58 1977.02M662.75 1951.29L667.25 1949.6M727.71 1928.7L732.29 1927.25M794.68 1908.92L799.32 1907.65M864.87 1890.91L869.53 1889.79M930.66 1875.78L935.34 1874.76M997.65 1861.82L1002.35 1860.89M1063.74 1849.33L1068.46 1848.49M1130.53 1837.88L1135.27 1837.11M1197.33 1827.47L1202.07 1826.76M1280.72 1815.72L1285.48 1815.09M1347.52 1807.16L1352.28 1806.58M1414.72 1799.19L1419.48 1798.64M1481.51 1791.76L1486.29 1791.25M1548.31 1784.72L1553.09 1784.23M1615.1 1777.94L1619.9 1777.72" fill="none" stroke="#000" stroke-width="6.6" stroke-linecap="round" stroke-linejoin="round"/>
<path d="M283.87 2563.84L283.88 2562.68L283.9 2561.52L283.91 2560.36L283.92 2559.2L283.93 2558.04L283.94 2556.88L283.95 2555.71L283.97 2554.55L283.98 2553.39L283.99 2552.23L284 2551.06L284.01 2549.9L284.02 2548.73L284.03 2547.57L284.04 2546.4L284.06 2545.24L284.07 2544.07L284.08 2542.91L284.09 2541.74L284.1 2540.57L284.11 2539.41L284.12 2538.24L284.14 2537.07L284.15 2535.9L284.16 2534.74L284.17 2533.57L284.18 2532.4L284.2 2531.23L284.21 2530.06L284.22 2528.89L284.24 2527.72L284.25 2526.55L284.26 2525.38L284.28 2524.2L284.29 2523.03L284.3 2521.86L284.32 2520.69L284.33 2519.52L284.35 2518.34L284.36 2517.17L284.38 2516L284.39 2514.83L284.41 2513.65L284.43 2512.48L284.44 2511.3L284.46 2510.13L284.48 2508.96L284.5 2507.78L284.51 2506.61L284.53 2505.43L284.55 2504.26L284.57 2503.08L284.59 2501.9L284.61 2500.73L284.63 2499.55L284.65 2498.38L284.68 2497.2L284.7 2496.02L284.72 2494.85L284.74 2493.67L284.77 2492.49L284.79 2491.31L284.82 2490.14L284.84 2488.96L284.87 2487.78L284.9 2486.6L284.92 2485.43L284.95 2484.25L284.98 2483.07L285.01 2481.89L285.04 2480.71L285.07 2479.53L285.1 2478.35L285.13 2477.18L285.16 2476L285.2 2474.82L285.23 2473.64L285.27 2472.46L285.3 2471.28L285.34 2470.1L285.37 2468.92L285.41 2467.74L285.45 2466.56L285.49 2465.38L285.53 2464.2L285.57 2463.02L285.61 2461.84L285.65 2460.66L285.7 2459.48L285.74 2458.3L285.78 2457.12L285.83 2455.94L285.88 2454.76L285.92 2453.58L285.97 2452.4L286.02 2451.22L286.07 2450.04L286.12 2448.86L286.18 2447.68L286.23 2446.5L286.28 2445.32L286.34 2444.14L286.39 2442.96L286.45 2441.78L286.51 2440.6L286.57 2439.42L286.63 2438.24L286.69 2437.06L286.75 2435.88L286.81 2434.7L286.88 2433.52L286.94 2432.35L287.01 2431.17L287.08 2429.99L287.15 2428.81L287.22 2427.63L287.29 2426.45L287.36 2425.27L287.44 2424.09L287.51 2422.91L287.59 2421.73L287.66 2420.55L287.74 2419.38L287.82 2418.2L287.9 2417.02L287.98 2415.84L288.07 2414.66L288.15 2413.49L288.24 2412.31L288.32 2411.13L288.41 2409.95L288.5 2408.78L288.59 2407.6L288.69 2406.42L288.78 2405.25L288.88 2404.07L288.97 2402.89L289.07 2401.72L289.17 2400.54L289.27 2399.36L289.37 2398.19L289.48 2397.01L289.58 2395.84L289.69 2394.66L289.8 2393.49L289.9 2392.31L290.02 2391.14L290.13 2389.97L290.24 2388.79L290.36 2387.62L290.47 2386.45L290.59 2385.27L290.71 2384.1L290.83 2382.93L290.96 2381.75L291.08 2380.58L291.21 2379.41L291.34 2378.24L291.47 2377.07L291.6 2375.9L291.73 2374.73L291.87 2373.56L292 2372.39L292.14 2371.22L292.28 2370.05L292.42 2368.88L292.56 2367.71L292.71 2366.54L292.85 2365.37L293 2364.2L293.15 2363.04L293.3 2361.87L293.46 2360.7L293.61 2359.53L293.77 2358.37L293.93 2357.2L294.09 2356.04L294.25 2354.87L294.42 2353.71L294.58 2352.54L294.75 2351.38L294.92 2350.22L295.09 2349.05L295.27 2347.89L295.44 2346.73L295.62 2345.57L295.8 2344.4L295.98 2343.24L296.17 2342.08L296.35 2340.92L296.54 2339.76L296.73 2338.6L296.92 2337.44L297.11 2336.28L297.31 2335.13L297.51 2333.97L297.71 2332.81L297.91 2331.65L298.11 2330.5L298.32 2329.34L298.52 2328.19L298.73 2327.03L298.95 2325.88L299.16 2324.72L299.38 2323.57L299.6 2322.42L299.82 2321.26L300.04 2320.11L300.26 2318.96L300.49 2317.81L300.72 2316.66L300.95 2315.51L301.19 2314.36L301.42 2313.21L301.66 2312.06L301.9 2310.91L302.14 2309.77L302.39 2308.62L302.64 2307.47L302.89 2306.33L303.14 2305.18L303.39 2304.04L303.65 2302.89L303.91 2301.75L304.17 2300.61L304.43 2299.46L304.7 2298.32L304.97 2297.18L305.24 2296.04L305.51 2294.9L305.79 2293.76L306.07 2292.62L306.35 2291.48L306.63 2290.35L306.92 2289.21L307.2 2288.07L307.49 2286.94L307.79 2285.8L308.08 2284.67L308.38 2283.54L308.68 2282.4L308.99 2281.27L309.29 2280.14L309.6 2279.01L309.91 2277.88L310.22 2276.75L310.54 2275.62L310.86 2274.49L311.18 2273.36L311.5 2272.24L311.83 2271.11L312.16 2269.98L312.49 2268.86L312.83 2267.73L313.16 2266.61L313.5 2265.49L313.85 2264.37L314.19 2263.24L314.54 2262.12L314.89 2261L315.25 2259.88L315.6 2258.77L315.96 2257.65L316.32 2256.53L316.69 2255.42L317.06 2254.3L317.43 2253.19L317.8 2252.07L318.18 2250.96L318.56 2249.85L318.94 2248.74L319.32 2247.62L319.71 2246.51L320.1 2245.41L320.5 2244.3L320.89 2243.19L321.29 2242.08L321.69 2240.98L322.1 2239.88L322.51 2238.77L322.92 2237.67L323.33 2236.57L323.75 2235.47L324.17 2234.37L324.59 2233.27L325.02 2232.18L325.45 2231.08L325.88 2229.99L326.31 2228.89L326.75 2227.8L327.19 2226.71L327.64 2225.62L328.08 2224.53L328.53 2223.44L328.99 2222.36L329.44 2221.27L329.9 2220.19L330.36 2219.11L330.83 2218.03L331.3 2216.95L331.77 2215.87L332.24 2214.79L332.72 2213.72L333.2 2212.65L333.68 2211.57L334.17 2210.5L334.66 2209.44L335.15 2208.37L335.65 2207.3L336.15 2206.24L336.65 2205.17L337.16 2204.11L337.67 2203.05L338.18 2202L338.69 2200.94L339.21 2199.89L339.73 2198.83L340.26 2197.78L340.78 2196.73L341.32 2195.69L341.85 2194.64L342.39 2193.6L342.93 2192.55L343.47 2191.51L344.02 2190.48L344.57 2189.44" fill="none" stroke="#000" stroke-width="6.6" stroke-linecap="round" stroke-dasharray="28 17 5 17"/>
<g fill="#000">
<rect x="269.1" y="2544.7" width="27" height="27"/>
<rect x="271.1" y="2506.5" width="27" height="27"/>
<rect x="273.5" y="2418.5" width="27" height="27"/>
<rect x="278.1" y="2372.7" width="27" height="27"/>
<rect x="281.1" y="2344.8" width="27" height="27"/>
<rect x="285.1" y="2325.6" width="27" height="27"/>
<rect x="289" y="2307.7" width="27" height="27"/>
<rect x="292.8" y="2292.7" width="27" height="27"/>
<rect x="296" y="2278.8" width="27" height="27"/>
<rect x="299.8" y="2266.8" width="27" height="27"/>
<rect x="304" y="2253.7" width="27" height="27"/>
<rect x="306.8" y="2242.5" width="27" height="27"/>
<rect x="316" y="2221.7" width="27" height="27"/>
<rect x="319.9" y="2210.5" width="27" height="27"/>
<rect x="333" y="2179.9" width="27" height="27"/>
<rect x="354.1" y="2138.4" width="27" height="27"/>
<rect x="388.5" y="2089" width="27" height="27"/>
<rect x="529.9" y="1974.9" width="27" height="27"/>
<rect x="634.5" y="1932.6" width="27" height="27"/>
<rect x="656" y="1926" width="27" height="27"/>
<rect x="704.4" y="1911.9" width="27" height="27"/>
<rect x="722.1" y="1907" width="27" height="27"/>
<rect x="780.2" y="1893.9" width="27" height="27"/>
<rect x="810" y="1887.4" width="27" height="27"/>
<rect x="837" y="1882.4" width="27" height="27"/>
<rect x="876.9" y="1874.9" width="27" height="27"/>
<rect x="924.2" y="1867.7" width="27" height="27"/>
<rect x="992" y="1858" width="27" height="27"/>
<rect x="1107.5" y="1843.9" width="27" height="27"/>
<rect x="1205.7" y="1834.1" width="27" height="27"/>
<rect x="1252.1" y="1830" width="27" height="27"/>
<rect x="1317" y="1824.5" width="27" height="27"/>
<rect x="1374.2" y="1819.7" width="27" height="27"/>
<rect x="1429.1" y="1816.2" width="27" height="27"/>
<rect x="1494.5" y="1811" width="27" height="27"/>
<rect x="1567.5" y="1806.9" width="27" height="27"/>
<rect x="1633" y="1803.1" width="27" height="27"/>
<circle cx="282.6" cy="2559.2" r="15.7"/>
<circle cx="287.1" cy="2417" r="15.7"/>
<circle cx="291.4" cy="2356" r="15.7"/>
<circle cx="294.7" cy="2320" r="15.7"/>
<circle cx="298" cy="2291" r="15.7"/>
<circle cx="302" cy="2266" r="15.7"/>
<circle cx="306" cy="2243" r="15.7"/>
<circle cx="311.5" cy="2218" r="15.7"/>
<circle cx="317.7" cy="2193.6" r="15.7"/>
<circle cx="325.2" cy="2165.2" r="15.7"/>
<circle cx="332.7" cy="2136.5" r="15.7"/>
<circle cx="362" cy="2052" r="15.7"/>
<circle cx="442.2" cy="1918.9" r="15.7"/>
<circle cx="515.2" cy="1855.9" r="15.7"/>
<circle cx="630" cy="1801.1" r="15.7"/>
<circle cx="738.2" cy="1769.3" r="15.7"/>
<circle cx="862" cy="1744.4" r="15.7"/>
<circle cx="976.9" cy="1727.5" r="15.7"/>
<circle cx="1090.7" cy="1716" r="15.7"/>
<circle cx="1200.2" cy="1706.5" r="15.7"/>
<circle cx="1315.8" cy="1697.7" r="15.7"/>
<circle cx="1429.9" cy="1690.8" r="15.7"/>
<circle cx="1546.3" cy="1684.6" r="15.7"/>
<circle cx="1644.7" cy="1680.5" r="15.7"/>
<path d="M283 2537L301.4 2569L264.6 2569Z"/>
<path d="M287 2367.7L305.4 2399.7L268.6 2399.7Z"/>
<path d="M290.9 2279.5L309.3 2311.5L272.5 2311.5Z"/>
<path d="M293.9 2221.7L312.3 2253.7L275.5 2253.7Z"/>
<path d="M298.1 2176.6L316.5 2208.6L279.7 2208.6Z"/>
<path d="M302.3 2139.6L320.7 2171.6L283.9 2171.6Z"/>
<path d="M306 2105.7L324.4 2137.7L287.6 2137.7Z"/>
<path d="M310.4 2076.6L328.8 2108.6L292 2108.6Z"/>
<path d="M314 2053.4L332.4 2085.4L295.6 2085.4Z"/>
<path d="M318 2027.2L336.4 2059.2L299.6 2059.2Z"/>
<path d="M321.4 2004L339.8 2036.5L303 2036.5Z"/>
<path d="M325.8 1985.2L344.2 2016.5L307.4 2016.5Z"/>
<path d="M333.8 1948.7L352.2 1980.5L315.4 1980.5Z"/>
<path d="M379.6 1817.4L398 1849.9L361.2 1849.9Z"/>
<path d="M442.9 1730.1L461.3 1762.8L424.5 1762.8Z"/>
<path d="M526.3 1676.1L544.7 1707.9L507.9 1707.9Z"/>
<path d="M603.8 1649L622.2 1680.8L585.4 1680.8Z"/>
<path d="M674.9 1632L693.3 1663.5L656.5 1663.5Z"/>
<path d="M747.7 1620.6L766.1 1652.7L729.3 1652.7Z"/>
<path d="M826.5 1611.9L844.9 1643.5L808.1 1643.5Z"/>
<path d="M902.6 1604.9L921 1636.5L884.2 1636.5Z"/>
<path d="M1008.3 1597.8L1026.7 1629.7L989.9 1629.7Z"/>
<path d="M1125.4 1590.9L1143.8 1623.5L1107 1623.5Z"/>
<path d="M1268.4 1587L1286.8 1618.9L1250 1618.9Z"/>
<path d="M1398.4 1582.9L1416.8 1615L1380 1615Z"/>
<path d="M1510.5 1579.8L1528.9 1611.9L1492.1 1611.9Z"/>
<path d="M1645.5 1577.8L1663.9 1609.9L1627.1 1609.9Z"/>
<rect x="1137.1" y="2273.8" width="27" height="27"/>
<circle cx="1150.4" cy="2365.9" r="15.2"/>
<path d="M1151 2423.7L1169.1 2456.2L1132.9 2456.2Z"/>
</g>
<path d="M1237.8 2287.2H1264.5M1282.2 2287.2H1286.3M1304.8 2287.2H1331.5M1349.5 2287.2H1353M1237.8 2365.8H1260.3M1291 2365.8H1313.4M1343.8 2365.8H1366.3M1237.8 2444.3H1379.6" fill="none" stroke="#000" stroke-width="7.2" stroke-linecap="round"/>
<g fill="#000">
<g><text transform="translate(1395.5 2309.8) scale(0.89 1)" font-family="'Liberation Serif', 'Noto Serif CJK SC', serif" font-size="69">35</text><text x="1460.4" y="2311.4" font-family="IPAGothic, 'Noto Sans CJK JP', 'Liberation Serif', serif" font-size="59" stroke="#fff" stroke-width="1">℃</text></g>
<g><text transform="translate(1395.5 2387.5) scale(0.89 1)" font-family="'Liberation Serif', 'Noto Serif CJK SC', serif" font-size="69">50</text><text x="1460.4" y="2389.1" font-family="IPAGothic, 'Noto Sans CJK JP', 'Liberation Serif', serif" font-size="59" stroke="#fff" stroke-width="1">℃</text></g>
<g><text transform="translate(1395.5 2466) scale(0.89 1)" font-family="'Liberation Serif', 'Noto Serif CJK SC', serif" font-size="69">70</text><text x="1460.4" y="2467.6" font-family="IPAGothic, 'Noto Sans CJK JP', 'Liberation Serif', serif" font-size="59" stroke="#fff" stroke-width="1">℃</text></g>
</g>
</g>
</svg>
</body>
</html>
